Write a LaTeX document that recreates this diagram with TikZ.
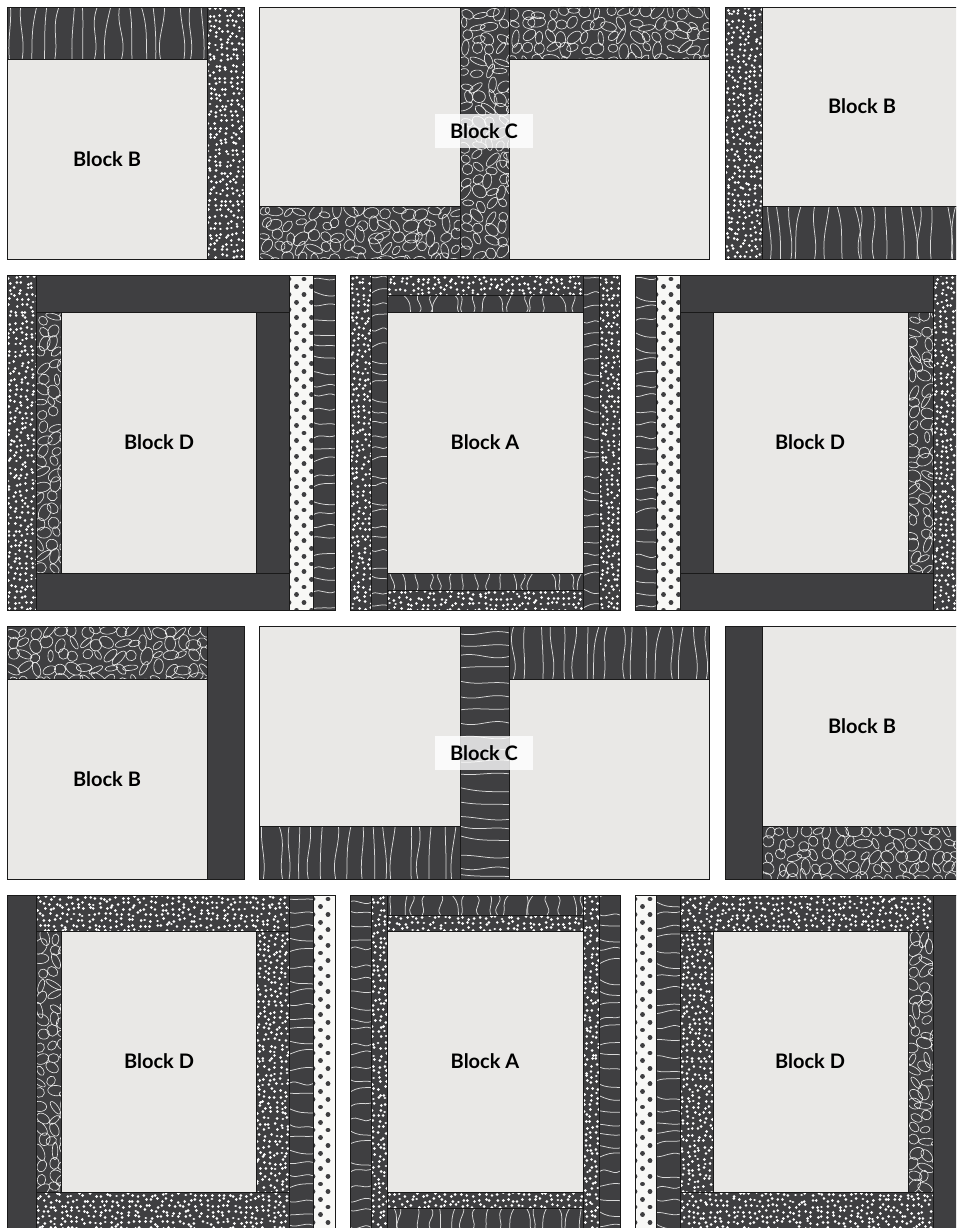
\documentclass[tikz,border=0pt]{standalone}
\usepackage{fontspec}
\setmainfont{Lato}
\definecolor{darkfab}{HTML}{3F3F41}
\definecolor{lightfab}{HTML}{E9E8E6}
\definecolor{paperfab}{HTML}{F8F8F6}
\definecolor{seamline}{HTML}{1A1A1A}
\tikzset{
  seam/.style={draw=seamline,line width=0.9pt},
  grain/.style={draw=white!85!black,line width=0.75pt},
  loopline/.style={draw=white!90!black,line width=0.65pt},
  speck/.style={draw=white,line width=2.9pt,line cap=round},
  polkadot/.style={draw=darkfab,line width=4.8pt,line cap=round},
  blocklabel/.style={font=\fontsize{20}{22}\selectfont\bfseries,text=black},
  labelbox/.style={blocklabel,fill=white,fill opacity=0.8,text opacity=1,minimum width=98pt,minimum height=34pt}
}
\pgfmathsetseed{4242}
\newcommand\lightpatch[4]{\draw[seam,fill=lightfab] (#1,#2) rectangle (#3,#4);}
\newcommand\darkpatch[4]{\draw[seam,fill=darkfab] (#1,#2) rectangle (#3,#4);}
\newcommand\dotpatch[4]{%
  \begin{scope}
    \clip (#1,#2) rectangle (#3,#4);
    \fill[darkfab] (#1,#2) rectangle (#3,#4);
    \pgfmathtruncatemacro\ncol{(#3-#1)/5.6}
    \pgfmathtruncatemacro\nrow{(#4-#2)/5.6}
    \draw[speck] \foreach \i in {0,...,\ncol} {\foreach \j in {0,...,\nrow}
      {({#1+2.8+5.6*\i+3.8*(rnd-0.5)},{#2+2.8+5.6*\j+3.8*(rnd-0.5)}) -- ++(0.01,0)}};
  \end{scope}
  \draw[seam] (#1,#2) rectangle (#3,#4);}
\newcommand\polkapatch[4]{%
  \begin{scope}
    \clip (#1,#2) rectangle (#3,#4);
    \fill[paperfab] (#1,#2) rectangle (#3,#4);
    \pgfmathtruncatemacro\ncol{(#3-#1)/7.5}
    \pgfmathtruncatemacro\nrow{(#4-#2)/15.4}
    \draw[polkadot] \foreach \i in {0,...,\ncol} {\foreach \j in {0,...,\nrow}
      {({#1+7.5*\i},{#2+4+15.4*\j+7.7*mod(\i,2)}) -- ++(0.01,0)}};
  \end{scope}
  \draw[seam] (#1,#2) rectangle (#3,#4);}
\newcommand\scribble[4]{%
  \begin{scope}
    \clip (#1,#2) rectangle (#3,#4);
    \fill[darkfab] (#1,#2) rectangle (#3,#4);
    \pgfmathtruncatemacro\ncol{(#3-#1)/12}
    \pgfmathtruncatemacro\nrow{(#4-#2)/12}
    \draw[loopline] \foreach \i in {0,...,\ncol} {\foreach \j in {0,...,\nrow}
      {({#1+6+12*\i+6*(rnd-0.5)},{#2+6+12*\j+6*(rnd-0.5)})
        ellipse [x radius={4.5+4.5*rnd}, y radius={2.5+3.5*rnd}, rotate={360*rnd}]}};
  \end{scope}
  \draw[seam] (#1,#2) rectangle (#3,#4);}
\newcommand\woodv[4]{%
  \begin{scope}
    \clip (#1,#2) rectangle (#3,#4);
    \fill[darkfab] (#1,#2) rectangle (#3,#4);
    \pgfmathtruncatemacro\nline{(#3-#1)/12}
    \foreach \i in {0,...,\nline}{
      \pgfmathsetmacro\xa{#1+5+12*\i+7*(rnd-0.5)}
      \pgfmathsetmacro\sa{16*(rnd-0.5)}
      \pgfmathsetmacro\sb{16*(rnd-0.5)}
      \draw[grain] (\xa,#2) .. controls (\xa+\sa,{#2+0.4*(#4-#2)}) and (\xa+\sb,{#2+0.6*(#4-#2)}) .. ({\xa+0.5*(\sa+\sb)},#4);
    }
  \end{scope}
  \draw[seam] (#1,#2) rectangle (#3,#4);}
\newcommand\woodh[4]{%
  \begin{scope}
    \clip (#1,#2) rectangle (#3,#4);
    \fill[darkfab] (#1,#2) rectangle (#3,#4);
    \pgfmathtruncatemacro\nline{(#4-#2)/13}
    \foreach \i in {0,...,\nline}{
      \pgfmathsetmacro\ya{#2+5+13*\i+7*(rnd-0.5)}
      \pgfmathsetmacro\sa{12*(rnd-0.5)}
      \pgfmathsetmacro\sb{12*(rnd-0.5)}
      \draw[grain] (#1,\ya) .. controls ({#1+0.4*(#3-#1)},\ya+\sa) and ({#1+0.6*(#3-#1)},\ya+\sb) .. (#3,{\ya+0.5*(\sa+\sb)});
    }
  \end{scope}
  \draw[seam] (#1,#2) rectangle (#3,#4);}

\begin{document}
\begin{tikzpicture}[x=1pt,y=-1pt]
  \useasboundingbox (0,0) rectangle (956,1228);
  \clip (0,0) rectangle (956,1228);
  \fill[white] (0,0) rectangle (956,1228);
  % row 1
  \woodv{7}{7}{207}{59}
  \lightpatch{7}{59}{207}{259}
  \dotpatch{207}{7}{244}{259}
  \lightpatch{259}{7}{460}{206}
  \scribble{259}{206}{460}{259}
  \scribble{460}{7}{509}{259}
  \scribble{509}{7}{709}{59}
  \lightpatch{509}{59}{709}{259}
  \dotpatch{725}{7}{762}{259}
  \lightpatch{762}{7}{962}{206}
  \woodv{762}{206}{962}{259}
  % row 2
  \dotpatch{7}{275}{36}{610}
  \darkpatch{36}{275}{289}{312}
  \darkpatch{36}{573}{289}{610}
  \scribble{36}{312}{61}{573}
  \lightpatch{61}{312}{256}{573}
  \darkpatch{256}{312}{289}{573}
  \polkapatch{289}{275}{313}{610}
  \woodh{313}{275}{335}{610}
  \dotpatch{350}{275}{371}{610}
  \woodh{371}{275}{387}{610}
  \dotpatch{387}{275}{583}{295}
  \woodv{387}{295}{583}{312}
  \lightpatch{387}{312}{583}{573}
  \woodv{387}{573}{583}{590}
  \dotpatch{387}{590}{583}{610}
  \woodh{583}{275}{599}{610}
  \dotpatch{599}{275}{620}{610}
  \woodh{635}{275}{656}{610}
  \polkapatch{656}{275}{680}{610}
  \darkpatch{680}{275}{933}{312}
  \darkpatch{680}{573}{933}{610}
  \darkpatch{680}{312}{713}{573}
  \lightpatch{713}{312}{908}{573}
  \scribble{908}{312}{933}{573}
  \dotpatch{933}{275}{962}{610}
  % row 3
  \scribble{7}{626}{207}{679}
  \lightpatch{7}{679}{207}{879}
  \darkpatch{207}{626}{244}{879}
  \lightpatch{259}{626}{460}{826}
  \woodv{259}{826}{460}{879}
  \woodh{460}{626}{509}{879}
  \woodv{509}{626}{709}{679}
  \lightpatch{509}{679}{709}{879}
  \darkpatch{725}{626}{762}{879}
  \lightpatch{762}{626}{962}{826}
  \scribble{762}{826}{962}{879}
  % row 4
  \darkpatch{7}{895}{36}{1230}
  \dotpatch{36}{895}{289}{931}
  \dotpatch{36}{1192}{289}{1230}
  \scribble{36}{931}{61}{1192}
  \lightpatch{61}{931}{256}{1192}
  \dotpatch{256}{931}{289}{1192}
  \woodh{289}{895}{313}{1230}
  \polkapatch{313}{895}{335}{1230}
  \woodh{350}{895}{371}{1230}
  \dotpatch{371}{895}{387}{1230}
  \woodv{387}{895}{583}{915}
  \dotpatch{387}{915}{583}{931}
  \lightpatch{387}{931}{583}{1192}
  \dotpatch{387}{1192}{583}{1208}
  \woodv{387}{1208}{583}{1230}
  \dotpatch{583}{895}{599}{1230}
  \woodh{599}{895}{620}{1230}
  \polkapatch{635}{895}{656}{1230}
  \woodh{656}{895}{680}{1230}
  \dotpatch{680}{895}{933}{931}
  \dotpatch{680}{1192}{933}{1230}
  \dotpatch{680}{931}{713}{1192}
  \lightpatch{713}{931}{908}{1192}
  \scribble{908}{931}{933}{1192}
  \darkpatch{933}{895}{962}{1230}
  % labels
  \node[blocklabel] (lblB1) at (107,159) {Block B};
  \node[labelbox] (lblC1) at (484,131) {Block C};
  \node[blocklabel] (lblB2) at (862,106) {Block B};
  \node[blocklabel] (lblD1) at (159,442) {Block D};
  \node[blocklabel] (lblA1) at (485,442) {Block A};
  \node[blocklabel] (lblD2) at (810,442) {Block D};
  \node[blocklabel] (lblB3) at (107,779) {Block B};
  \node[labelbox] (lblC2) at (484,753) {Block C};
  \node[blocklabel] (lblB4) at (862,726) {Block B};
  \node[blocklabel] (lblD3) at (159,1061) {Block D};
  \node[blocklabel] (lblA2) at (485,1061) {Block A};
  \node[blocklabel] (lblD4) at (810,1061) {Block D};
\end{tikzpicture}
\end{document}
